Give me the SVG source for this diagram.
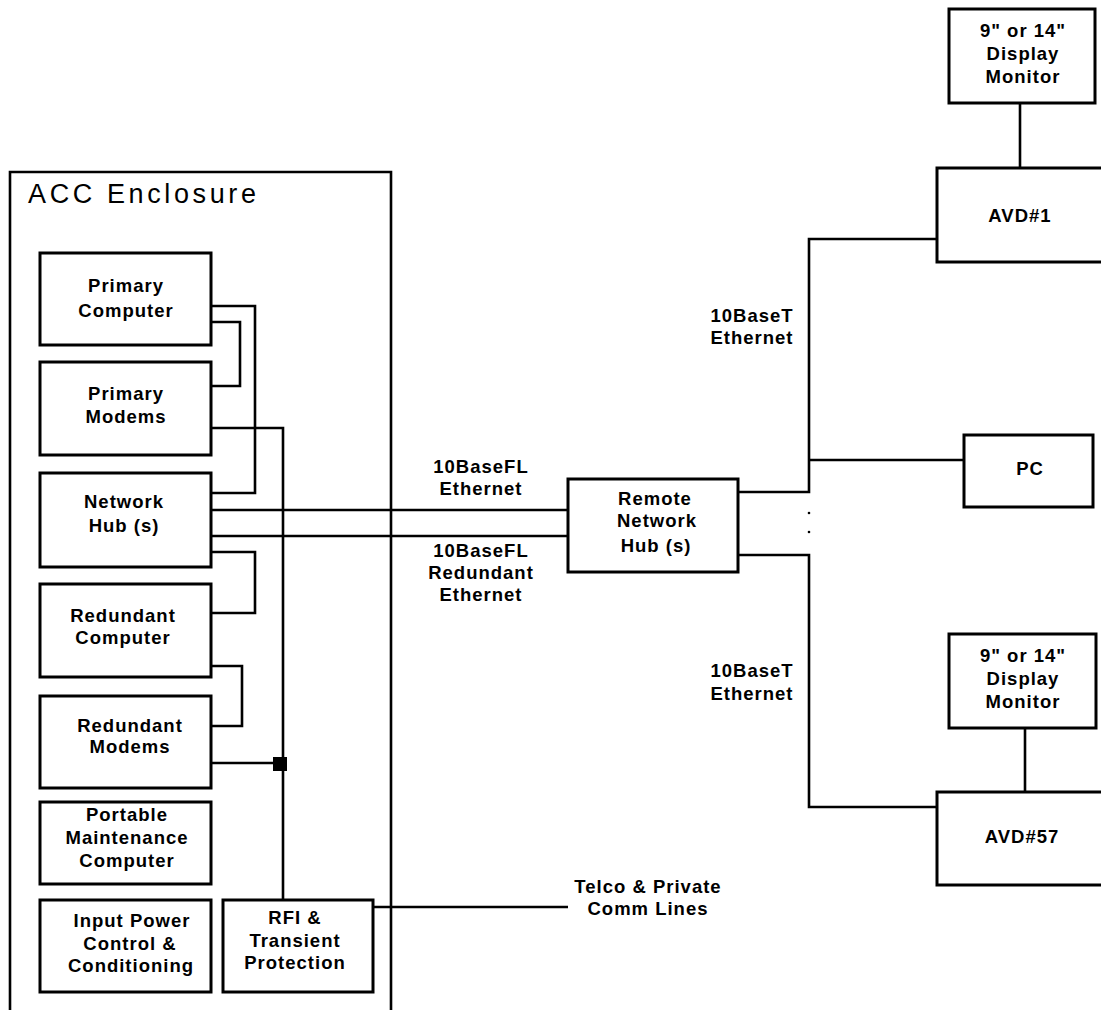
<svg xmlns="http://www.w3.org/2000/svg" width="1101" height="1010" viewBox="0 0 1101 1010">
<style>
.b{fill:#fff;stroke:#000;stroke-width:3}
.c{fill:none;stroke:#000;stroke-width:2.6}
text{font-family:"Liberation Sans",Arial,sans-serif;font-weight:bold;font-size:18.5px;letter-spacing:1px;text-anchor:middle;fill:#000}
.t{font-weight:normal;font-size:27px;letter-spacing:2px;text-anchor:start}
</style>
<rect width="1101" height="1010" fill="#fff"/>
<g id="enclosure">
<path class="c" d="M10,1012 V172 H391 V1012" stroke-width="3"/>
<text class="t" x="28" y="203" textLength="230" lengthAdjust="spacing">ACC Enclosure</text>
</g>
<g id="connectors">
<path class="c" d="M211,306 H255 V493 H211"/>
<path class="c" d="M211,322 H240 V386 H211"/>
<path class="c" d="M211,428 H283 V900"/>
<path class="c" d="M211,510 H568"/>
<path class="c" d="M211,536 H568"/>
<path class="c" d="M211,552 H255 V613 H211"/>
<path class="c" d="M211,666 H242 V726 H211"/>
<path class="c" d="M211,763 H283" stroke-width="4"/>
<rect x="273" y="757" width="14" height="14" fill="#000"/>
<path class="c" d="M373,907 H568"/>
<path class="c" d="M738,492 H809 V239 H937"/>
<path class="c" d="M809,460 H964"/>
<path class="c" d="M738,555 H809 V807 H937"/>
<path class="c" d="M1020,103 V168"/>
<path class="c" d="M1025,728 V792"/>
<circle cx="809" cy="513" r="1.3" fill="#000"/>
<circle cx="809" cy="532" r="1.3" fill="#000"/>
</g>
<g id="primary-computer"><rect class="b" x="40" y="253" width="171" height="92"/><text x="126" y="292">Primary</text><text x="126" y="317">Computer</text></g>
<g id="primary-modems"><rect class="b" x="40" y="362" width="171" height="93"/><text x="126" y="400">Primary</text><text x="126" y="423">Modems</text></g>
<g id="network-hub"><rect class="b" x="40" y="473" width="171" height="94"/><text x="124" y="508">Network</text><text x="124" y="532">Hub (s)</text></g>
<g id="redundant-computer"><rect class="b" x="40" y="584" width="171" height="93"/><text x="123" y="622">Redundant</text><text x="123" y="644">Computer</text></g>
<g id="redundant-modems"><rect class="b" x="40" y="696" width="171" height="92"/><text x="130" y="732">Redundant</text><text x="130" y="753">Modems</text></g>
<g id="portable-maintenance"><rect class="b" x="40" y="802" width="171" height="82"/><text x="127" y="821">Portable</text><text x="127" y="844">Maintenance</text><text x="127" y="867">Computer</text></g>
<g id="input-power"><rect class="b" x="40" y="900" width="171" height="92"/><text x="132" y="927">Input Power</text><text x="130" y="950">Control &amp;</text><text x="131" y="972">Conditioning</text></g>
<g id="rfi"><rect class="b" x="223" y="900" width="150" height="92"/><text x="295" y="924">RFI &amp;</text><text x="295" y="947">Transient</text><text x="295" y="969">Protection</text></g>
<g id="remote-hub"><rect class="b" x="568" y="479" width="170" height="93"/><text x="655" y="505">Remote</text><text x="657" y="527">Network</text><text x="656" y="552">Hub (s)</text></g>
<g id="pc"><rect class="b" x="964" y="435" width="129" height="72"/><text x="1030" y="475">PC</text></g>
<g id="monitor-1"><rect class="b" x="949" y="9" width="146" height="94"/><text x="1023" y="37">9" or 14"</text><text x="1023" y="60">Display</text><text x="1023" y="83">Monitor</text></g>
<g id="avd-1"><rect class="b" x="937" y="168" width="170" height="94"/><text x="1020" y="222">AVD#1</text></g>
<g id="monitor-57"><rect class="b" x="949" y="634" width="147" height="94"/><text x="1023" y="662">9" or 14"</text><text x="1023" y="685">Display</text><text x="1023" y="708">Monitor</text></g>
<g id="avd-57"><rect class="b" x="937" y="792" width="170" height="93"/><text x="1022" y="843">AVD#57</text></g>
<g id="labels">
<text x="481" y="473">10BaseFL</text><text x="481" y="495">Ethernet</text>
<text x="481" y="557">10BaseFL</text><text x="481" y="579">Redundant</text><text x="481" y="601">Ethernet</text>
<text x="752" y="322">10BaseT</text><text x="752" y="344">Ethernet</text>
<text x="752" y="677">10BaseT</text><text x="752" y="700">Ethernet</text>
<text x="648" y="893">Telco &amp; Private</text><text x="648" y="915">Comm Lines</text>
</g>
</svg>
